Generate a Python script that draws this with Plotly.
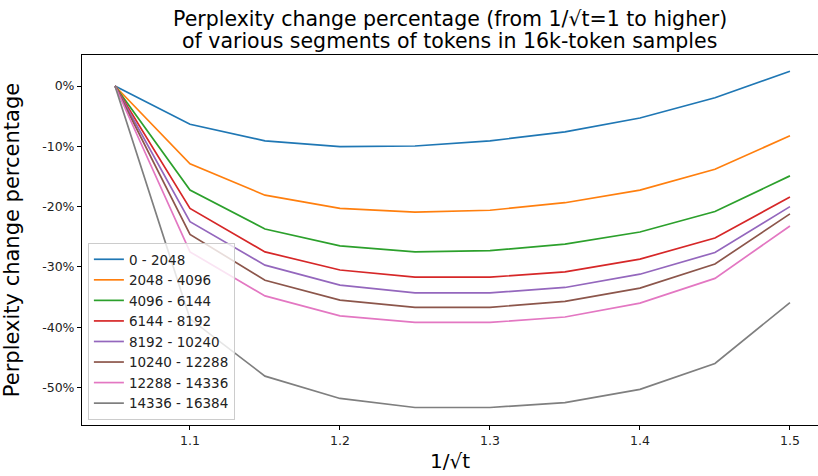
import plotly.graph_objects as go

x_vals = [1.05, 1.1, 1.15, 1.2, 1.25, 1.3, 1.35, 1.4, 1.45, 1.5]

seg_labels = ["0 - 2048", "2048 - 4096", "4096 - 6144", "6144 - 8192",
              "8192 - 10240", "10240 - 12288", "12288 - 14336", "14336 - 16384"]

s_0_2048 = [0, -6.35, -9.1, -10.05, -9.95, -9.1, -7.6, -5.3, -1.95, 2.45]
s_2048_4096 = [0, -12.9, -18.1, -20.3, -20.9, -20.6, -19.35, -17.25, -13.8, -8.25]
s_4096_6144 = [0, -17.25, -23.7, -26.5, -27.5, -27.3, -26.2, -24.2, -20.8, -14.9]
s_6144_8192 = [0, -20.3, -27.5, -30.5, -31.7, -31.7, -30.8, -28.7, -25.2, -18.4]
s_8192_10240 = [0, -22.5, -29.7, -33.0, -34.3, -34.3, -33.4, -31.2, -27.6, -20.0]
s_10240_12288 = [0, -24.6, -32.2, -35.5, -36.7, -36.7, -35.7, -33.5, -29.5, -21.2]
s_12288_14336 = [0, -27.5, -34.8, -38.1, -39.2, -39.2, -38.3, -36.0, -31.9, -23.2]
s_14336_16384 = [0, -38.6, -48.1, -51.8, -53.3, -53.3, -52.5, -50.3, -46.0, -35.9]

series = [s_0_2048, s_2048_4096, s_4096_6144, s_6144_8192,
          s_8192_10240, s_10240_12288, s_12288_14336, s_14336_16384]

colors = ["#1f77b4", "#ff7f0e", "#2ca02c", "#d62728",
          "#9467bd", "#8c564b", "#e377c2", "#7f7f7f"]

y_ticks = [0, -10, -20, -30, -40, -50]
x_ticks = [1.1, 1.2, 1.3, 1.4, 1.5]

title_lines = ["Perplexity change percentage (from 1/√t=1 to higher)",
               "of various segments of tokens in 16k-token samples"]

fig = go.Figure()
for lab, ys, c in zip(seg_labels, series, colors):
    fig.add_trace(go.Scatter(x=x_vals, y=ys, mode="lines", name=lab,
                             line=dict(color=c, width=1.7)))

font_family = "DejaVu Sans"
W, H = 818, 476
L, R, T, B = 82, 0, 55, 51
plot_h = H - T - B
fig.update_layout(
    width=W, height=H,
    paper_bgcolor="white", plot_bgcolor="white",
    margin=dict(l=L, r=R, t=T, b=B, autoexpand=False),
    font=dict(family=font_family, color="#000000", size=12),
    legend=dict(
        x=0.008, y=0.0135, xanchor="left", yanchor="bottom",
        bgcolor="rgba(255,255,255,0.8)", bordercolor="#cccccc", borderwidth=1,
        font=dict(size=13.5, family=font_family, color="#222222"),
        tracegroupgap=0, itemwidth=30,
    ),
    showlegend=True,
)
for txt, yc in zip(title_lines, [19, 41]):
    fig.add_annotation(
        text=txt, xref="paper", yref="paper",
        x=(449.5 - L) / (W - L - R), y=1 + (T - yc) / plot_h,
        xanchor="center", yanchor="middle", showarrow=False,
        font=dict(size=20.5, family=font_family, color="#000000"),
    )
fig.update_xaxes(
    range=[1.028, 1.5187], automargin=False,
    tickvals=x_ticks, ticktext=[str(v) for v in x_ticks],
    showgrid=False, zeroline=False,
    showline=True, linecolor="black", linewidth=1, mirror=True,
    ticks="outside", ticklen=4, tickcolor="black",
    tickfont=dict(size=12.5, color="#222222"),
    title=dict(text="1/√t", font=dict(size=20, color="#000000"), standoff=6),
)
fig.update_yaxes(
    range=[-56.2, 5.14], automargin=False,
    tickvals=y_ticks, ticktext=[f"{v}%" for v in y_ticks],
    showgrid=False, zeroline=False,
    showline=True, linecolor="black", linewidth=1, mirror=True,
    ticks="outside", ticklen=4, tickcolor="black",
    tickfont=dict(size=12.5, color="#222222"),
    title=dict(text="Perplexity change percentage", font=dict(size=21, color="#000000"), standoff=19),
)

fig.write_html("out.html", config={"displayModeBar": False},
               post_script="document.body.style.margin='0';")
